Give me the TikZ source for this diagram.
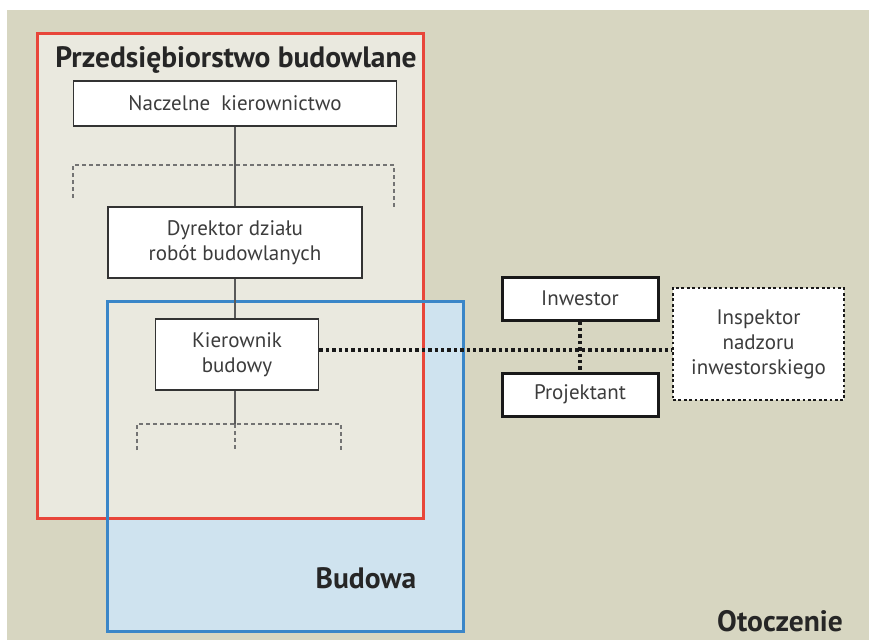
\documentclass[tikz,border=0pt]{standalone}
\usepackage{fontspec}
\setmainfont{PT Sans}
\definecolor{bgk}{HTML}{D7D6C1}
\definecolor{innerg}{HTML}{EAE9DF}
\definecolor{redb}{HTML}{E8463A}
\definecolor{blueb}{HTML}{3A86C8}
\definecolor{lblue}{HTML}{CFE3EF}
\definecolor{txtg}{HTML}{3C3C3C}
\begin{document}
\begin{tikzpicture}[x=1pt,y=-1pt,
  orgbox/.style={draw=black!80, line width=1.8pt, fill=white, text=txtg,
    font=\fontsize{21}{25}\selectfont, align=center, inner sep=0pt},
  extbox/.style={orgbox, line width=3pt, draw=black!90},
  dotbox/.style={orgbox, draw=black!90, line width=2.8pt, dash pattern=on 2.8pt off 2.6pt},
  solidlink/.style={draw=black!65, line width=1.8pt},
  dashlink/.style={draw=black!55, line width=1.5pt, dash pattern=on 4pt off 3pt},
  dotlink/.style={draw=black!90, line width=3.4pt, dash pattern=on 3.4pt off 3pt},
  heading/.style={font=\bfseries\fontsize{29.5}{34}\selectfont, text=black!85, inner sep=0pt}
]
\useasboundingbox (0,0) rectangle (869,640);
\fill[white] (0,0) rectangle (869,640);
\fill[bgk] (7,10) rectangle (869,640);
% Budowa (blue) fill
\fill[lblue] (107,301) rectangle (463,631);
% Przedsiebiorstwo (red) fill
\fill[innerg] (37,33) rectangle (423,518);
\draw[redb, line width=3pt] (37,33) rectangle (423,518);
\draw[blueb, line width=3pt] (107,301) rectangle (463,631);

\node[heading] (title) at (236,60) {Przedsiębiorstwo budowlane};
\node[heading] (budowa) at (366,578) {Budowa};
\node[heading] (otocz) at (780,621) {Otoczenie};

\node[orgbox, minimum width=323pt, minimum height=45pt] (nacz) at (235,103.5) {Naczelne\ \ kierownictwo};
\node[orgbox, minimum width=254pt, minimum height=71pt] (dyr) at (235,242.5) {Dyrektor działu\\robót budowlanych};
\node[orgbox, minimum width=163pt, minimum height=71pt] (kier) at (237,354.5) {Kierownik\\budowy};

\node[extbox, minimum width=156pt, minimum height=43pt] (inw) at (580,298.5) {Inwestor};
\node[extbox, minimum width=156pt, minimum height=43pt] (proj) at (580,394.5) {Projektant};
\node[dotbox, minimum width=171pt, minimum height=112pt] (insp) at (758.5,344) {Inspektor\\nadzoru\\inwestorskiego};

\coordinate (b1) at (235,165);
\coordinate (b1l) at (73,165);
\coordinate (b1r) at (394,165);
\coordinate (b1ld) at (73,198);
\coordinate (b1rd) at (394,207);
\coordinate (b2) at (235,424);
\coordinate (b2l) at (137,424);
\coordinate (b2r) at (341,424);
\coordinate (b2ld) at (137,450);
\coordinate (b2md) at (235,450);
\coordinate (b2rd) at (341,450);

\draw[solidlink] (nacz.south) -- (dyr.north);
\draw[solidlink] (dyr.south) -- (dyr.south |- kier.north);
\draw[solidlink] (kier.south -| b2) -- (b2);
\draw[dashlink] (b1ld) -- (b1l) -- (b1r) -- (b1rd);
\draw[dashlink] (b2ld) -- (b2l) -- (b2r) -- (b2rd);
\draw[dashlink] (b2) -- (b2md);

\draw[dotlink] (kier.east |- 0,350) -- (insp.west |- 0,350);
\draw[dotlink] (inw.south) -- (proj.north);
\end{tikzpicture}
\end{document}
